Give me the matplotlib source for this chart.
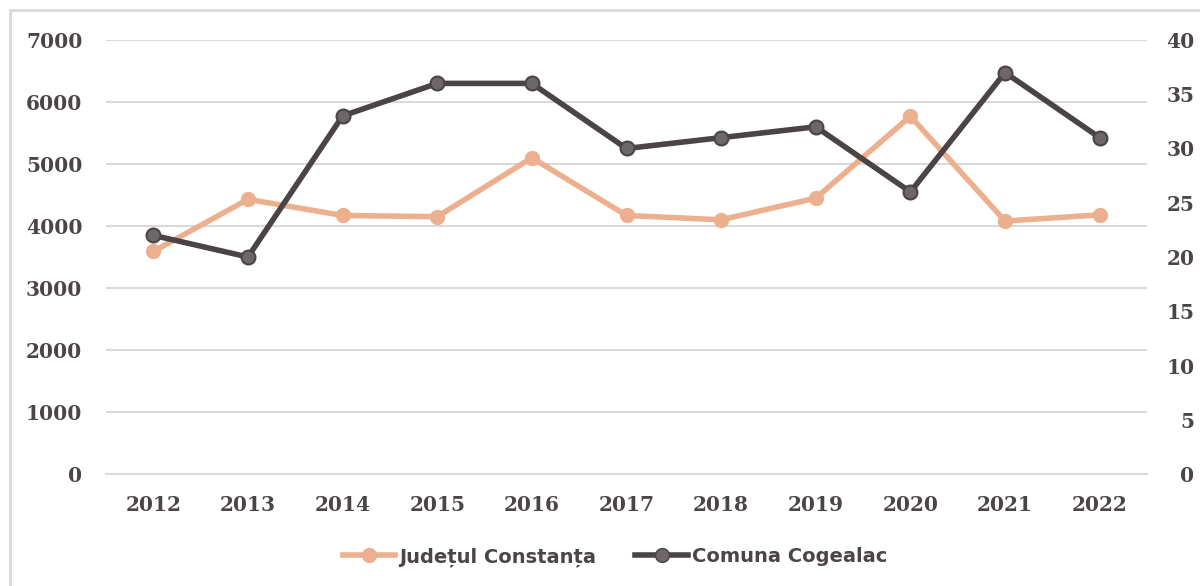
import matplotlib.pyplot as plt
from matplotlib.patches import Rectangle
from matplotlib.lines import Line2D

years = ['2012', '2013', '2014', '2015', '2016', '2017', '2018', '2019', '2020', '2021', '2022']
judet = [3590, 4430, 4170, 4150, 5100, 4170, 4100, 4450, 5770, 4080, 4180]
cogealac = [22, 20, 33, 36, 36, 30, 31, 32, 26, 37, 31]
left_ticks = [0, 1000, 2000, 3000, 4000, 5000, 6000, 7000]
right_ticks = [0, 5, 10, 15, 20, 25, 30, 35, 40]

SALMON = '#EDB08F'
DARK = '#4A4446'
MARKER_DARK = '#6E6767'
TEXT = '#4B4546'
GRID = '#D9D9D9'

fig = plt.figure(figsize=(12, 5.86), dpi=100)
fig.patches.append(Rectangle((10 / 1200, -0.1), 1.2, (586 - 10) / 586 + 0.1,
                             transform=fig.transFigure, fill=False,
                             edgecolor=GRID, linewidth=2))

ax = fig.add_axes([106 / 1200, (586 - 474) / 586, (1147 - 106) / 1200, (474 - 40) / 586])
ax2 = ax.twinx()

x = range(len(years))
ax.plot(x, judet, color=SALMON, linewidth=4, marker='o', markersize=10,
        markerfacecolor=SALMON, markeredgecolor=SALMON, zorder=3)
ax2.plot(x, cogealac, color=DARK, linewidth=4, marker='o', markersize=10,
         markerfacecolor=MARKER_DARK, markeredgecolor=DARK, markeredgewidth=1.5, zorder=3)

ax.set_xlim(-0.5, len(years) - 0.5)
ax.set_ylim(0, 7000)
ax2.set_ylim(0, 40)
ax.set_yticks(left_ticks)
ax2.set_yticks(right_ticks)
ax.set_xticks(list(x))
ax.set_xticklabels(years)
ax.grid(axis='y', color=GRID, linewidth=1.5)
ax.set_axisbelow(True)

for a in (ax, ax2):
    for s in a.spines.values():
        s.set_visible(False)
    a.tick_params(length=0)
ax.spines['bottom'].set_visible(True)
ax.spines['bottom'].set_color(GRID)
ax.spines['bottom'].set_linewidth(1.5)

for lab in ax.get_yticklabels() + ax.get_xticklabels() + ax2.get_yticklabels():
    lab.set_fontfamily('DejaVu Serif')
    lab.set_fontweight('bold')
    lab.set_fontsize(14.5)
    lab.set_color(TEXT)
for lab in ax2.get_yticklabels():
    lab.set_horizontalalignment('right')
ax.tick_params(axis='y', pad=17)
ax.tick_params(axis='x', pad=15)
ax2.tick_params(axis='y', pad=34)

handles = [
    Line2D([], [], color=SALMON, linewidth=4, marker='o', markersize=10,
           markerfacecolor=SALMON, markeredgecolor=SALMON),
    Line2D([], [], color=DARK, linewidth=4, marker='o', markersize=10,
           markerfacecolor=MARKER_DARK, markeredgecolor=DARK),
]
fig.legend(handles, ['Județul Constanța', 'Comuna Cogealac'], loc='center',
           bbox_to_anchor=(615 / 1200, (586 - 557) / 586), ncol=2, frameon=False,
           handlelength=2.7, handletextpad=0.2, columnspacing=2.0,
           prop=dict(family='DejaVu Sans', weight='bold', size=14),
           labelcolor=TEXT)

fig.savefig('out.png', dpi=100)
